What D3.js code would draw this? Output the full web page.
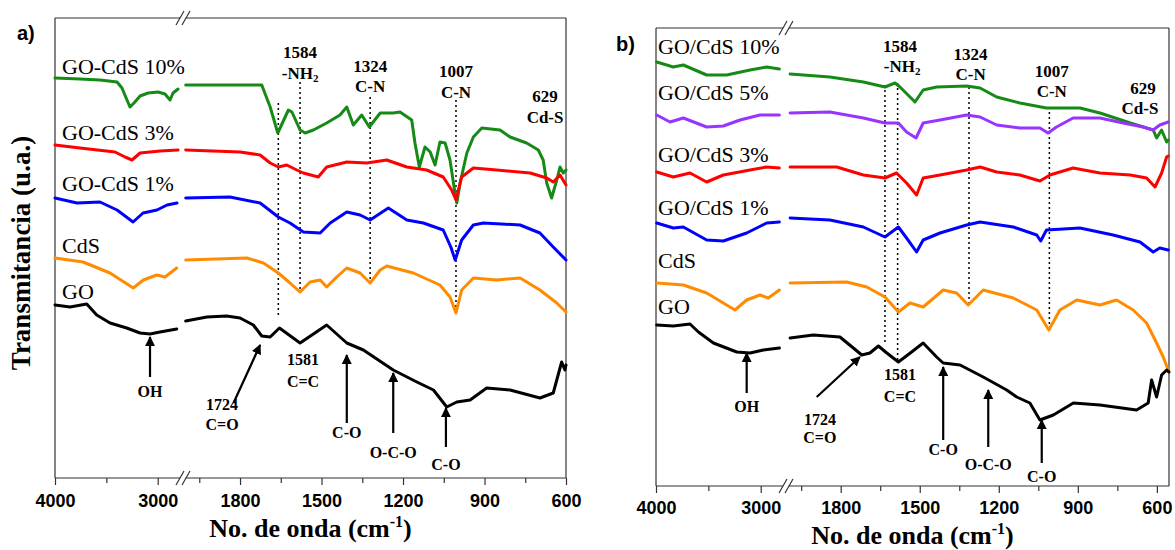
<!DOCTYPE html>
<html><head><meta charset="utf-8">
<script src="https://cdn.jsdelivr.net/npm/d3@7"></script>
<style>body{margin:0;background:#fff}</style>
</head><body>
<svg id="c" width="1175" height="550" xmlns="http://www.w3.org/2000/svg"></svg>
<script>
// ---------------- DATA ----------------
const namesA = ["GO-CdS 10%", "GO-CdS 3%", "GO-CdS 1%", "CdS", "GO"];
const namesB = ["GO/CdS 10%", "GO/CdS 5%", "GO/CdS 3%", "GO/CdS 1%", "CdS", "GO"];
const colorsA = ["#168a16", "#ff0000", "#0000ff", "#ff8c00", "#000000"];
const colorsB = ["#168a16", "#9933ff", "#ff0000", "#0000ff", "#ff8c00", "#000000"];

const majorTicksLeft = [4000, 3000];
const minorTicksLeft = [3500];
const majorTicksRight = [1800, 1500, 1200, 900, 600];
const minorTicksRight = [1950, 1650, 1350, 1050, 750];

// Panel a) spectra: [wavenumber cm-1, transmittance (a.u.)]
const a_GOCdS10 = [[4000,400],[3757,399],[3562,398],[3396,396],[3348,390],[3299,378],[3270,371],[3231,375],[3172,382],[3094,385],[2997,386],[2929,384],[2880,378],[2851,385],[2802,389],
 [2000,393],[1720,393],[1689,371],[1661,345],[1622,368],[1609,366],[1579,348],[1560,345],[1530,348],[1481,355],[1432,363],[1407,371],[1383,353],[1352,363],[1324,351],[1284,365],[1236,365],[1211,366],[1168,358],[1156,335],[1140,311],[1119,331],[1100,326],[1082,313],[1064,336],[1045,335],[1027,318],[1012,291],[1002,275],[990,295],[965,325],[941,341],[910,350],[843,348],[806,341],[745,335],[702,328],[684,318],[671,295],[653,280],[634,298],[622,311],[610,305],[600,308]];
const a_GOCdS3 = [[4000,333],[3757,330],[3416,326],[3318,321],[3250,318],[3172,325],[2978,327],[2802,328],
 [2000,328],[1800,326],[1726,323],[1689,315],[1659,311],[1628,313],[1591,308],[1567,305],[1512,301],[1481,311],[1407,316],[1333,315],[1260,318],[1186,311],[1113,308],[1052,301],[1021,288],[1005,278],[984,301],[941,310],[855,308],[732,305],[671,300],[647,296],[622,303],[600,293]];
const a_GOCdS1 = [[4000,280],[3786,275],[3562,276],[3396,268],[3240,256],[3143,265],[3007,268],[2909,273],[2812,275],
 [2000,280],[1837,281],[1726,275],[1659,261],[1616,255],[1567,246],[1505,245],[1468,255],[1407,266],[1358,263],[1321,258],[1254,270],[1186,258],[1125,255],[1052,248],[1024,231],[1008,218],[984,238],[941,253],[904,255],[769,253],[696,245],[647,231],[600,218]];
const a_CdS = [[4000,220],[3727,216],[3464,205],[3238,190],[3140,198],[3010,203],[2929,201],[2815,210],
 [2000,218],[1775,220],[1714,215],[1659,205],[1616,195],[1579,186],[1542,196],[1505,198],[1481,191],[1444,201],[1407,210],[1358,205],[1321,195],[1284,208],[1260,212],[1162,205],[1064,193],[1027,181],[1005,165],[984,188],[941,200],[855,198],[769,200],[696,188],[634,175],[600,166]];
const a_GO = [[4000,173],[3854,171],[3691,174],[3594,163],[3464,155],[3302,150],[3172,145],[3075,144],[2978,146],[2815,149],
 [2000,157],[1922,161],[1849,162],[1800,160],[1751,153],[1720,142],[1689,141],[1655,150],[1579,135],[1481,153],[1407,135],[1346,128],[1236,108],[1149,96],[1088,88],[1039,71],[1002,76],[953,78],[892,90],[806,88],[696,80],[647,85],[616,116],[604,108],[600,113]];

// Panel b) spectra
const b_GOCdS10 = [[3993,424],[3835,419],[3739,421],[3516,411],[3325,411],[3102,416],[2943,419],[2822,417],
 [1992,412],[1841,409],[1714,404],[1632,399],[1594,403],[1575,399],[1518,384],[1487,396],[1436,399],[1322,400],[1271,398],[1208,389],[1120,383],[1019,378],[892,378],[816,373],[701,363],[639,358],[614,356],[601,348],[582,356],[563,344],[557,346]];
const b_GOCdS5 = [[3993,371],[3866,364],[3739,368],[3516,359],[3357,360],[3198,366],[3007,371],[2822,371],
 [1992,373],[1841,374],[1714,368],[1632,363],[1581,363],[1550,354],[1514,348],[1487,363],[1423,366],[1322,371],[1271,369],[1208,361],[1120,358],[1044,358],[1013,353],[981,359],[918,368],[816,368],[728,363],[652,359],[614,356],[589,361],[557,364]];
const b_GOCdS3 = [[3993,314],[3835,309],[3675,313],[3516,304],[3357,311],[3102,316],[2943,319],[2822,318],
 [1992,319],[1815,319],[1714,311],[1632,308],[1588,313],[1550,303],[1512,291],[1487,308],[1423,311],[1322,316],[1271,319],[1208,314],[1120,311],[1044,305],[1006,311],[918,318],[816,313],[701,311],[639,308],[607,299],[582,313],[563,329],[557,330]];
const b_GOCdS1 = [[3993,263],[3835,258],[3739,259],[3516,246],[3357,245],[3134,253],[2943,263],[2822,264],
 [1992,268],[1841,266],[1714,259],[1632,249],[1581,259],[1550,248],[1512,234],[1487,246],[1423,253],[1322,261],[1271,264],[1145,259],[1056,251],[1041,245],[1019,256],[892,258],[766,251],[664,244],[614,234],[589,238],[557,236]];
const b_CdS = [[3993,203],[3739,201],[3516,193],[3357,183],[3246,176],[3134,186],[3007,191],[2927,188],[2822,196],
 [1992,203],[1777,204],[1701,199],[1632,189],[1581,174],[1537,183],[1487,179],[1411,196],[1360,193],[1316,181],[1259,196],[1145,188],[1056,176],[1010,156],[968,176],[904,186],[816,181],[753,186],[690,176],[639,163],[601,143],[576,129],[557,116]];
const b_GO = [[3993,161],[3835,160],[3675,162],[3595,154],[3452,143],[3229,134],[3102,133],[2975,136],[2822,138],
 [1992,148],[1904,151],[1803,149],[1752,138],[1720,131],[1689,133],[1657,140],[1625,133],[1581,124],[1531,134],[1487,143],[1436,129],[1411,123],[1347,121],[1259,109],[1170,96],[1132,89],[1082,83],[1044,66],[993,71],[917,83],[816,81],[677,76],[633,83],[620,106],[601,89],[582,111],[563,116],[554,114]];

// legend label levels (a.u.)
const legendValsA = [404, 338, 287, 225, 179];
const legendValsB = [432, 386, 324, 271, 218, 172];

// dotted band markers: [wavenumber, top, bottom]
const dottedA = [[1659,375,162],[1579,396,185],[1321,381,195],[1005,378,165]];
const dottedB = [[1632,401,141],[1584,403,125],[1313,399,181],[1008,379,156]];
// band labels: [wavenumber, level, text]
const peakLabelsA = [[1579,420,"1584"],[1579,399,"-NH2"],[1321,406,"1324"],[1321,386,"C-N"],[1005,401,"1007"],[1005,380,"C-N"],[677,376,"629"],[677,355,"Cd-S"]];
const peakLabelsB = [[1575,434,"1584"],[1567,414,"-NH2"],[1307,426,"1324"],[1307,406,"C-N"],[999,409,"1007"],[999,389,"C-N"],[653,392,"629"],[664,372,"Cd-S"]];
// arrows: [wTail, vTail, wTip, vTip]
const arrowsA = [[3075,101,3075,141],[1824,75,1726,133],[1407,55,1407,123],[1236,45,1236,105],[1042,31,1042,70]];
const arrowsB = [[3134,93,3134,133],[1891,89,1727,129],[1411,46,1411,119],[1240,39,1240,96],[1037,23,1037,66]];
const annoLabelsA = [[3075,81,"OH"],[1866,68,"1724"],[1866,48,"C=O"],[1568,113,"1581"],[1568,91,"C=C"],[1407,40,"C-O"],[1236,20,"O-C-O"],[1042,8,"C-O"]];
const annoLabelsB = [[3134,74,"OH"],[1879,61,"1724"],[1879,43,"C=O"],[1575,106,"1581"],[1575,84,"C=C"],[1411,31,"C-O"],[1240,16,"O-C-O"],[1037,4,"C-O"]];

// ---------------- DRAW ----------------
const svg = d3.select("#c");
const SERIF = "'Liberation Serif','Times New Roman',serif";
const SANS = "'Liberation Sans',Arial,sans-serif";

svg.append("defs").append("marker")
  .attr("id","ah").attr("viewBox","0 0 10 10").attr("refX",9).attr("refY",5)
  .attr("markerWidth",4.5).attr("markerHeight",4.5).attr("orient","auto")
  .attr("markerUnits","strokeWidth")
  .append("path").attr("d","M0,0 L10,5 L0,10 z").attr("fill","#000");

function drawPanel(c) {
  const g = svg.append("g");
  const xL = d3.scaleLinear().domain([4000, 2750]).range([c.x0, c.bL]);
  const xR = d3.scaleLinear().domain(c.rightDomain).range([c.bR, c.x1]);
  const xw = w => (w > 2300 ? xL(w) : xR(w));
  const y = d3.scaleLinear().domain([0, c.yMax]).range([c.y1, c.y0]);

  // frame
  const fr = g.append("g").attr("stroke","#333").attr("stroke-width",1.2).attr("fill","none");
  const bx = c.breakX;
  [[c.x0,c.y0,c.x0,c.y1],[c.x1,c.y0,c.x1,c.y1],
   [c.x0,c.y0,bx-3,c.y0],[bx+3,c.y0,c.x1,c.y0],
   [c.x0,c.y1,bx-3,c.y1],[bx+3,c.y1,c.x1,c.y1]].forEach(s =>
     fr.append("line").attr("x1",s[0]).attr("y1",s[1]).attr("x2",s[2]).attr("y2",s[3]));
  [c.y0, c.y1].forEach(yy => [bx-3, bx+3].forEach(cx =>
     fr.append("line").attr("x1",cx-4).attr("y1",yy+7).attr("x2",cx+4).attr("y2",yy-7)));

  // axes
  function axis(scale, vals, size, labels) {
    const ax = d3.axisBottom(scale).tickValues(vals).tickSize(size).tickPadding(c.tickPad)
      .tickFormat(labels ? d3.format("d") : () => "");
    const ga = g.append("g").attr("transform",`translate(0,${c.y1})`).call(ax);
    ga.select(".domain").remove();
    ga.selectAll("line").attr("stroke","#333").attr("stroke-width",1.2);
    ga.selectAll("text").attr("font-family",SANS).attr("font-weight","bold")
      .attr("font-size",18).attr("fill","#000");
  }
  axis(xL, majorTicksLeft, 7, true);
  axis(xL, minorTicksLeft, 5, false);
  axis(xR, majorTicksRight.filter(v => v >= c.rightDomain[1]), 7, true);
  axis(xR, minorTicksRight, 5, false);

  // x title
  const t = g.append("text").attr("x",(c.x0+c.x1)/2).attr("y",c.titleY)
    .attr("text-anchor","middle").attr("font-family",SERIF).attr("font-weight","bold")
    .attr("font-size",26).attr("fill","#000");
  t.append("tspan").text("No. de onda (cm");
  t.append("tspan").attr("dy",-10).attr("font-size",16).text("-1");
  t.append("tspan").attr("dy",10).text(")");

  // dotted markers
  c.dotted.forEach(d => g.append("line")
    .attr("x1",xw(d[0])).attr("x2",xw(d[0])).attr("y1",y(d[1])).attr("y2",y(d[2]))
    .attr("stroke","#000").attr("stroke-width",1.5).attr("stroke-dasharray","2,3"));

  // spectra
  const line = d3.line().x(d => xw(d[0])).y(d => y(d[1]));
  c.series.forEach((s, i) => {
    const left = s.filter(d => d[0] > 2300), right = s.filter(d => d[0] <= 2300);
    [left, right].forEach(part => g.append("path").attr("d", line(part))
      .attr("fill","none").attr("stroke",c.colors[i]).attr("stroke-width",3)
      .attr("stroke-linejoin","round").attr("stroke-linecap","round"));
    g.append("text").attr("x",c.x0 + c.legendDx).attr("y",y(c.legendVals[i]))
      .attr("font-family",SERIF).attr("font-size",22).attr("fill","#000").text(c.names[i]);
  });

  // band labels
  c.peakLabels.forEach(p => {
    const tx = g.append("text").attr("x",xw(p[0])).attr("y",y(p[1])).attr("text-anchor","middle")
      .attr("font-family",SERIF).attr("font-weight","bold").attr("font-size",17).attr("fill","#000");
    if (p[2] === "-NH2") {
      tx.append("tspan").text("-NH");
      tx.append("tspan").attr("font-size",11).attr("dy",3).text("2");
    } else tx.text(p[2]);
  });

  // arrows
  c.arrows.forEach(a => g.append("line")
    .attr("x1",xw(a[0])).attr("y1",y(a[1])).attr("x2",xw(a[2])).attr("y2",y(a[3]))
    .attr("stroke","#000").attr("stroke-width",2.2).attr("marker-end","url(#ah)"));
  c.annoLabels.forEach(p => g.append("text").attr("x",xw(p[0])).attr("y",y(p[1]))
    .attr("text-anchor","middle").attr("font-family",SERIF).attr("font-weight","bold")
    .attr("font-size",16).attr("fill","#000").text(p[2]));

  // tag
  g.append("text").attr("x",c.tagX).attr("y",c.tagY).attr("font-family",SANS)
    .attr("font-weight","bold").attr("font-size",20).attr("fill","#000").text(c.tag);
}

drawPanel({x0:55, x1:566, y0:18, y1:478, bL:183.4, bR:185.7, breakX:183, rightDomain:[2000,600], yMax:460,
  series:[a_GOCdS10,a_GOCdS3,a_GOCdS1,a_CdS,a_GO], names:namesA, colors:colorsA, legendVals:legendValsA, legendDx:7,
  dotted:dottedA, peakLabels:peakLabelsA, arrows:arrowsA, annoLabels:annoLabelsA,
  tickPad:9, titleY:537, tag:"a)", tagX:17, tagY:40});
drawPanel({x0:656, x1:1169, y0:28, y1:486, bL:786.9, bR:788, breakX:786, rightDomain:[2000,554], yMax:458,
  series:[b_GOCdS10,b_GOCdS5,b_GOCdS3,b_GOCdS1,b_CdS,b_GO], names:namesB, colors:colorsB, legendVals:legendValsB, legendDx:2,
  dotted:dottedB, peakLabels:peakLabelsB, arrows:arrowsB, annoLabels:annoLabelsB,
  tickPad:8, titleY:544, tag:"b)", tagX:616, tagY:51});

// y title
svg.append("text").attr("transform","translate(30,253) rotate(-90)").attr("text-anchor","middle")
  .attr("font-family",SERIF).attr("font-weight","bold").attr("font-size",27).attr("fill","#000")
  .text("Transmitancia  (u.a.)");
</script>
</body></html>
